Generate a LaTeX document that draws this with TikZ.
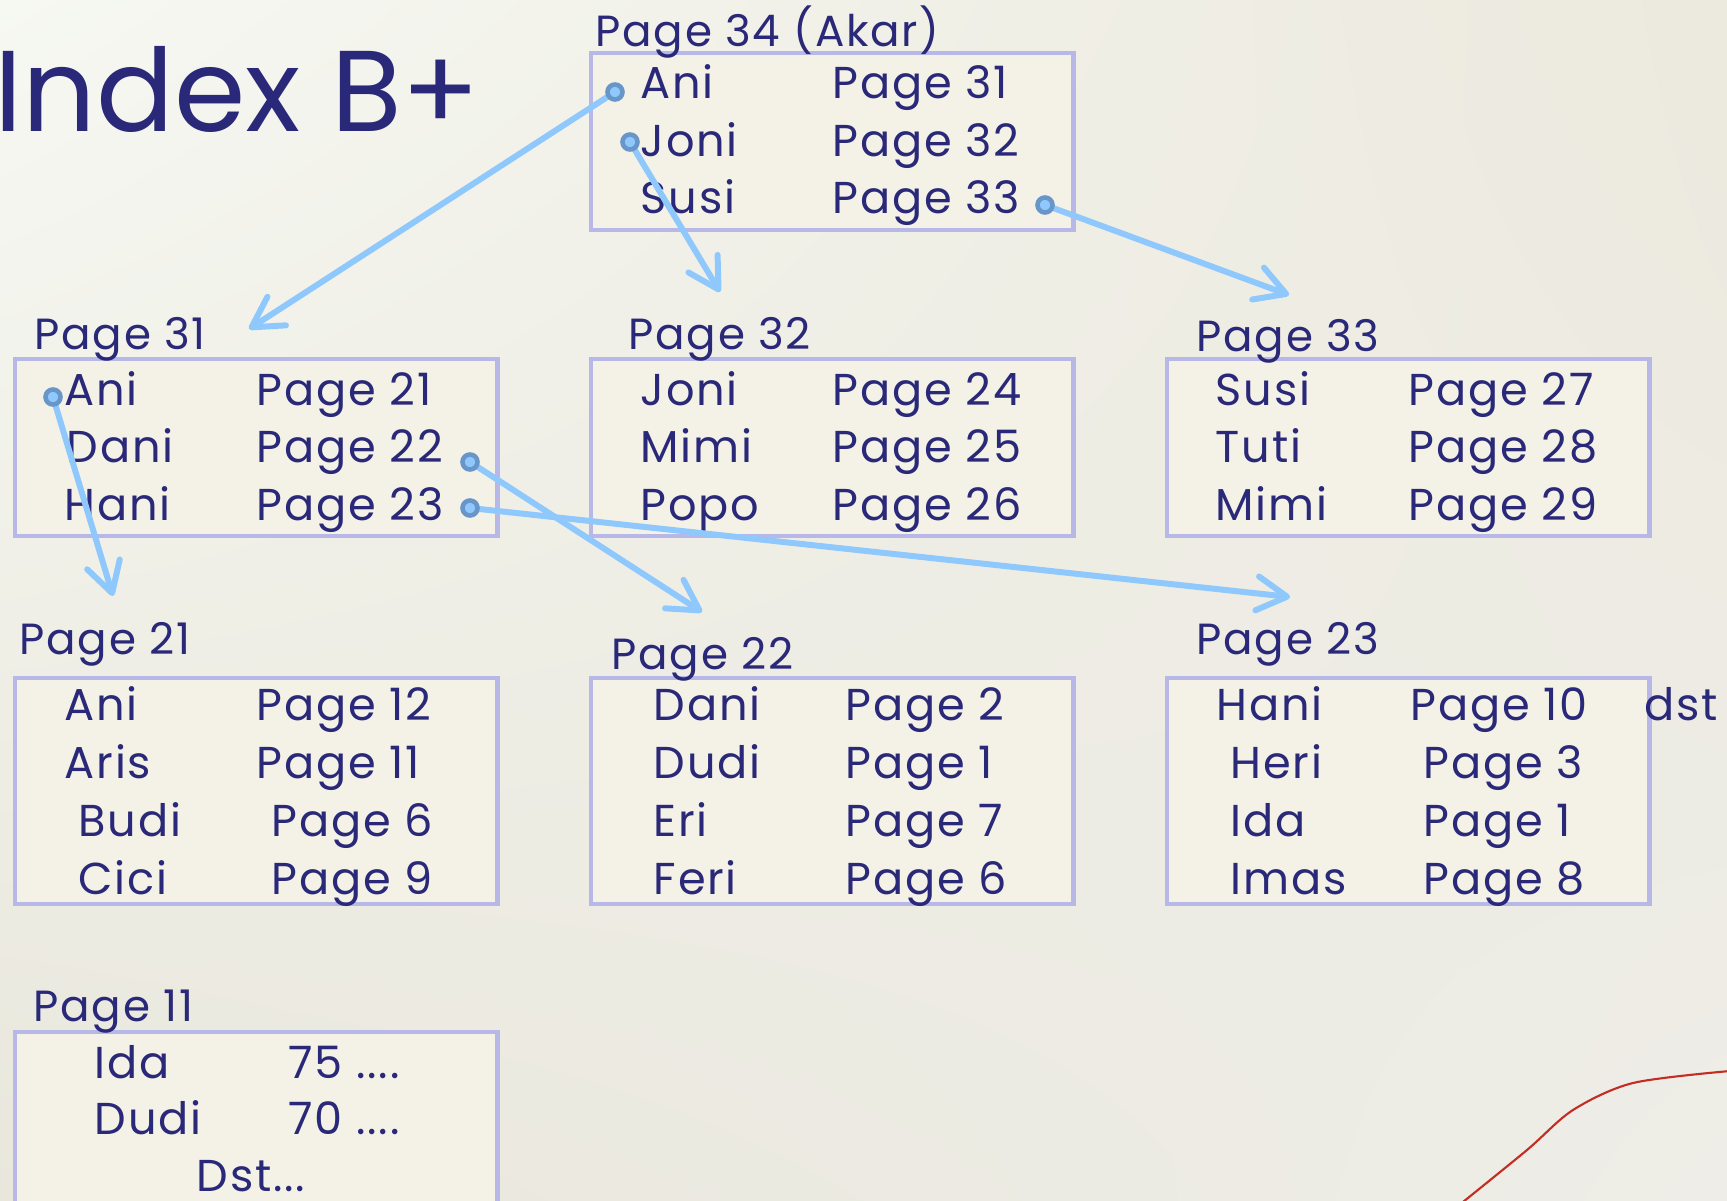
\documentclass[tikz,border=0pt]{standalone}
\usepackage{fontspec}
\setmainfont{Poppins}
\newfontfamily\rowfont{Poppins}[LetterSpace=4,Numbers=Monospaced]
\usetikzlibrary{arrows.meta,positioning,calc,shadings}
\definecolor{cNavy}{RGB}{42,40,120}
\definecolor{cFrame}{RGB}{184,184,232}
\definecolor{cPaper}{RGB}{244,242,230}
\definecolor{cLink}{RGB}{142,200,252}
\definecolor{cRing}{RGB}{105,150,200}
\definecolor{cThread}{RGB}{196,45,35}
\definecolor{cBgA}{RGB}{246,248,242}
\definecolor{cBgB}{RGB}{236,233,222}
\definecolor{cBgC}{RGB}{233,231,220}
\definecolor{cBgD}{RGB}{238,237,231}
\tikzset{
  pagebox/.style={rectangle,draw=cFrame,line width=1.2pt,fill=cPaper,
                  anchor=north west,inner sep=0pt,
                  minimum width=4.82cm,minimum height=1.77cm},
  leafbox/.style={pagebox,minimum height=2.26cm},
  pagelabel/.style={anchor=base west,inner sep=0pt,text=cNavy,
                    font=\rowfont\fontsize{12.4}{14}\selectfont},
  keytext/.style={anchor=base west,inner sep=0pt,text=cNavy,
                  font=\rowfont\fontsize{12.7}{15}\selectfont},
  ptrarr/.style={-{Straight Barb[length=3mm,width=3.4mm,round]},
                 line width=1.7pt,color=cLink,line cap=round},
  ptrdot/.style={circle,draw=cRing,fill=cLink,line width=1.3pt,
                 minimum size=1.5mm,inner sep=0pt}
}

\begin{document}
\begin{tikzpicture}[x=0.01cm,y=-0.01cm]

  \useasboundingbox (0,0) rectangle (1727,1201);
  \clip (0,0) rectangle (1727,1201);

  % slide background
  \shade[upper left=cBgA,upper right=cBgB,lower left=cBgC,lower right=cBgD]
      (0,0) rectangle (1727,1201);
  \draw[cThread,line width=0.6pt] plot[smooth] coordinates
      {(1458,1206) (1527,1150) (1573,1110) (1633,1083) (1730,1071)};

  \node[anchor=base west,inner sep=0pt,text=cNavy,
        font=\fontsize{32.7}{38}\selectfont] (title) at (-6,132) {Index B+};

  % Root page
  \node[pagebox] (page34) at (589,51) {};
  \node[pagelabel] (lbl34) at (595,47) {Page 34 (Akar)};
  \node[keytext] (k34a) at (640,99)  {Ani};
  \node[keytext] (k34b) at (640,157) {Joni};
  \node[keytext] (k34c) at (640,214) {Susi};
  \node[keytext] (p34a) at (832,99)  {Page 31};
  \node[keytext] (p34b) at (832,157) {Page 32};
  \node[keytext] (p34c) at (832,214) {Page 33};

  % Second level
  \node[pagebox] (page31) at (13,357) {};
  \node[pagelabel] (lbl31) at (34,350) {Page 31};
  \node[keytext] (k31a) at (64,406) {Ani};
  \node[keytext] (k31b) at (66,463) {Dani};
  \node[keytext] (k31c) at (64,521) {Hani};
  \node[keytext] (p31a) at (256,406) {Page 21};
  \node[keytext] (p31b) at (256,463) {Page 22};
  \node[keytext] (p31c) at (256,521) {Page 23};

  \node[pagebox] (page32) at (589,357) {};
  \node[pagelabel] (lbl32) at (628,350) {Page 32};
  \node[keytext] (k32a) at (640,406) {Joni};
  \node[keytext] (k32b) at (640,463) {Mimi};
  \node[keytext] (k32c) at (640,521) {Popo};
  \node[keytext] (p32a) at (832,406) {Page 24};
  \node[keytext] (p32b) at (832,463) {Page 25};
  \node[keytext] (p32c) at (832,521) {Page 26};

  \node[pagebox] (page33) at (1165,357) {};
  \node[pagelabel] (lbl33) at (1196,352) {Page 33};
  \node[keytext] (k33a) at (1215,406) {Susi};
  \node[keytext] (k33b) at (1215,463) {Tuti};
  \node[keytext] (k33c) at (1215,521) {Mimi};
  \node[keytext] (p33a) at (1408,406) {Page 27};
  \node[keytext] (p33b) at (1408,463) {Page 28};
  \node[keytext] (p33c) at (1408,521) {Page 29};

  % Leaf pages
  \node[leafbox] (page21) at (13,676) {};
  \node[pagelabel] (lbl21) at (19,655) {Page 21};
  \node[keytext] (k21a) at (64,721) {Ani};
  \node[keytext] (k21b) at (64,779) {Aris};
  \node[keytext] (k21c) at (78,837) {Budi};
  \node[keytext] (k21d) at (78,895) {Cici};
  \node[keytext] (p21a) at (256,721) {Page 12};
  \node[keytext] (p21b) at (256,779) {Page 11};
  \node[keytext] (p21c) at (271,837) {Page 6};
  \node[keytext] (p21d) at (271,895) {Page 9};

  \node[leafbox] (page22) at (589,676) {};
  \node[pagelabel] (lbl22) at (611,670) {Page 22};
  \node[keytext] (k22a) at (653,721) {Dani};
  \node[keytext] (k22b) at (653,779) {Dudi};
  \node[keytext] (k22c) at (653,837) {Eri};
  \node[keytext] (k22d) at (653,895) {Feri};
  \node[keytext] (p22a) at (845,721) {Page 2};
  \node[keytext] (p22b) at (845,779) {Page 1};
  \node[keytext] (p22c) at (845,837) {Page 7};
  \node[keytext] (p22d) at (845,895) {Page 6};

  \node[leafbox] (page23) at (1165,676) {};
  \node[pagelabel] (lbl23) at (1196,655) {Page 23};
  \node[keytext] (k23a) at (1216,721) {Hani};
  \node[keytext] (k23b) at (1230,779) {Heri};
  \node[keytext] (k23c) at (1230,837) {Ida};
  \node[keytext] (k23d) at (1230,895) {Imas};
  \node[keytext] (p23a) at (1410,721) {Page 10};
  \node[keytext] (p23b) at (1423,779) {Page 3};
  \node[keytext] (p23c) at (1423,837) {Page 1};
  \node[keytext] (p23d) at (1423,895) {Page 8};
  \node[keytext] (dst23) at (1644,721) {dst};

  % Data page
  \node[leafbox] (page11) at (13,1030) {};
  \node[pagelabel] (lbl11) at (33,1022) {Page 11};
  \node[keytext] (k11a) at (94,1078) {Ida};
  \node[keytext] (k11b) at (94,1135) {Dudi};
  \node[keytext] (v11a) at (288,1078) {75 ....};
  \node[keytext] (v11b) at (288,1135) {70 ....};
  \node[keytext] (v11c) at (196,1192) {Dst...};

  % pointers
  \coordinate (s34a) at (615,92);
  \coordinate (s34b) at (630,142);
  \coordinate (s34c) at (1045,205);
  \coordinate (s31a) at (53,397);
  \coordinate (s31b) at (470,462);
  \coordinate (s31c) at (470,508);
  \coordinate (t31) at (249,329);
  \coordinate (t32) at (720,292);
  \coordinate (t33) at (1289,295);
  \coordinate (t21) at (113,596);
  \coordinate (t22) at (702,612);
  \coordinate (t23) at (1290,597);

  \draw[ptrarr] (s34a) -- (t31);
  \draw[ptrarr] (s34b) -- (t32);
  \draw[ptrarr] (s34c) -- (t33);
  \draw[ptrarr] (s31a) -- (t21);
  \draw[ptrarr] (s31b) -- (t22);
  \draw[ptrarr] (s31c) -- (t23);

  \node[ptrdot] (d34a) at (s34a) {};
  \node[ptrdot] (d34b) at (s34b) {};
  \node[ptrdot] (d34c) at (s34c) {};
  \node[ptrdot] (d31a) at (s31a) {};
  \node[ptrdot] (d31b) at (s31b) {};
  \node[ptrdot] (d31c) at (s31c) {};

\end{tikzpicture}
\end{document}
